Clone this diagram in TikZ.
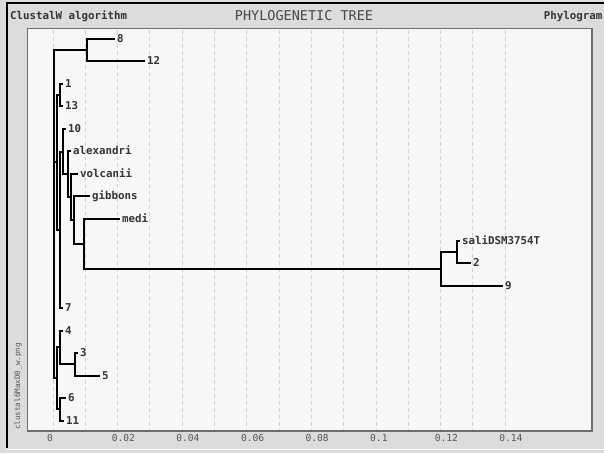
\documentclass[tikz,border=0pt]{standalone}
\usepackage{fontspec}
\newfontfamily\monof{DejaVu Sans Mono}
\definecolor{bgc}{HTML}{DCDCDC}
\definecolor{plotc}{HTML}{F7F7F7}
\definecolor{gridc}{HTML}{D2D2D2}
\definecolor{framec}{HTML}{6E6E6E}
\definecolor{txtc}{HTML}{333333}
\definecolor{axc}{HTML}{555555}
\begin{document}
\begin{tikzpicture}[x=1pt,y=-1pt,
  br/.style={line width=2pt, black},
  leaf/.style={anchor=west, inner xsep=1.8pt, inner ysep=0pt, font=\monof\bfseries\fontsize{10.8}{12}\selectfont, text=txtc, text height=7pt, text depth=0pt},
  gridline/.style={gridc, line width=1pt, dash pattern=on 4pt off 3pt},
  axlab/.style={anchor=base west, inner sep=0pt, font=\monof\fontsize{9.6}{11}\selectfont, text=axc},
  hdr/.style={inner sep=0pt, font=\monof\bfseries\fontsize{10.8}{12}\selectfont, text=txtc}
]
\useasboundingbox (0,0) rectangle (604,453);
\fill[bgc] (0,0) rectangle (604,453);
\draw[black, line width=2pt] (7,448) -- (7,3) -- (604,3);
\draw[white, line width=1.5pt] (7,449.5) -- (604,449.5);
% plot area
\fill[plotc] (27.5,28.5) rectangle (592,431);
\foreach \k in {0,...,14} {
  \draw[gridline] ({round(52.5+32.3*\k)+0.5},29.5) -- ({round(52.5+32.3*\k)+0.5},430);
}
\draw[framec, line width=1.2pt] (27.5,28.5) rectangle (592,431);
% header
\node[hdr, anchor=base west] (ttl1) at (10,19) {ClustalW algorithm};
\node[inner sep=0pt, anchor=base, font=\monof\fontsize{13.5}{15}\selectfont, text=txtc!90] (ttl2) at (304,20) {PHYLOGENETIC TREE};
\node[hdr, anchor=base east] (ttl3) at (602.5,19) {Phylogram};
% axis labels
\foreach \v [count=\i from 0] in {0,0.02,0.04,0.06,0.08,0.1,0.12,0.14} {
  \node[axlab] (ax\i) at ({52.5+64.6*\i-5.5},441) {\v};
}
% file name
\node[inner sep=0pt, rotate=90, font=\monof\fontsize{7.6}{9}\selectfont, text=axc] (fname) at (18,386.5) {clustal6MaxD0\_w.png};
% internal nodes
\coordinate (R) at (54,162);
\coordinate (N812) at (87,50);
\coordinate (G) at (57,162);
\coordinate (H) at (57,378);
\coordinate (N113) at (60,95);
\coordinate (F) at (60,230);
\coordinate (E) at (63,152);
\coordinate (D) at (68,174);
\coordinate (C) at (71,197);
\coordinate (B) at (74,220);
\coordinate (A) at (84,244);
\coordinate (S) at (441,269);
\coordinate (T) at (457,252);
\coordinate (I) at (60,347);
\coordinate (K) at (75,364);
\coordinate (J) at (60,409);
% leaves
\node[leaf] (L8) at (115,39) {8};
\node[leaf] (L12) at (145,61) {12};
\node[leaf] (L1) at (63,84) {1};
\node[leaf] (L13) at (63,106) {13};
\node[leaf] (L10) at (66,129) {10};
\node[leaf] (Lalex) at (71,151) {alexandri};
\node[leaf] (Lvolc) at (78,174) {volcanii};
\node[leaf] (Lgibb) at (90,196) {gibbons};
\node[leaf] (Lmedi) at (120,219) {medi};
\node[leaf] (Lsali) at (460,241) {saliDSM3754T};
\node[leaf] (L2) at (471,263) {2};
\node[leaf] (L9) at (503,286) {9};
\node[leaf] (L7) at (63,308) {7};
\node[leaf] (L4) at (63,331) {4};
\node[leaf] (L3) at (78,353) {3};
\node[leaf] (L5) at (100,376) {5};
\node[leaf] (L6) at (66,398) {6};
\node[leaf] (L11) at (64,421) {11};
% branches
\draw[br] (R) |- (N812);
\draw[br] (R) -- (G);
\draw[br] (R) |- (H);
\draw[br] (N812) |- (L8.west);
\draw[br] (N812) |- (L12.west);
\draw[br] (G) |- (N113);
\draw[br] (G) |- (F);
\draw[br] (N113) |- (L1.west);
\draw[br] (N113) |- (L13.west);
\draw[br] (F) |- (E);
\draw[br] (F) |- (L7.west);
\draw[br] (E) |- (L10.west);
\draw[br] (E) |- (D);
\draw[br] (D) |- (Lalex.west);
\draw[br] (D) |- (C);
\draw[br] (C) |- (Lvolc.west);
\draw[br] (C) |- (B);
\draw[br] (B) |- (Lgibb.west);
\draw[br] (B) |- (A);
\draw[br] (A) |- (Lmedi.west);
\draw[br] (A) |- (S);
\draw[br] (S) |- (T);
\draw[br] (S) |- (L9.west);
\draw[br] (T) |- (Lsali.west);
\draw[br] (T) |- (L2.west);
\draw[br] (H) |- (I);
\draw[br] (H) |- (J);
\draw[br] (I) |- (L4.west);
\draw[br] (I) |- (K);
\draw[br] (K) |- (L3.west);
\draw[br] (K) |- (L5.west);
\draw[br] (J) |- (L6.west);
\draw[br] (J) |- (L11.west);
\end{tikzpicture}
\end{document}
